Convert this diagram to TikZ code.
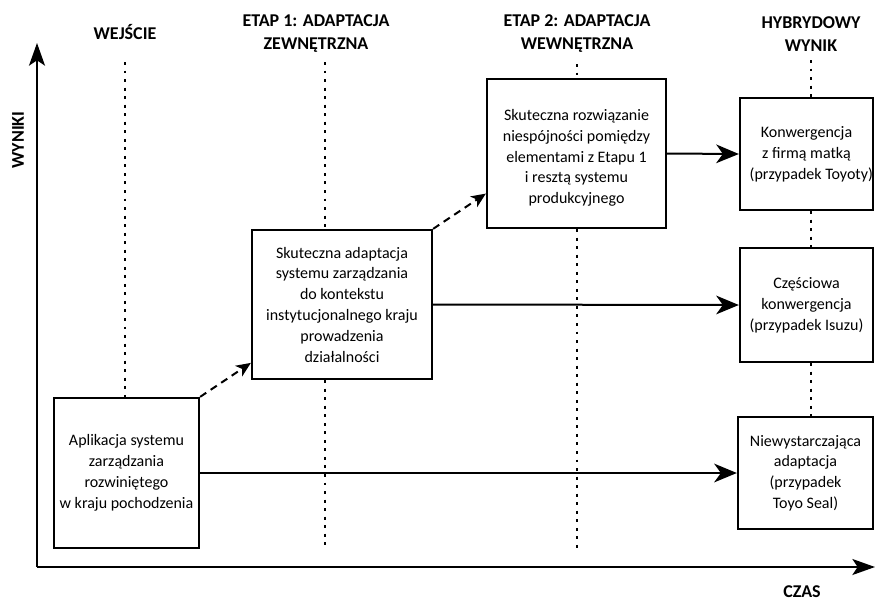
\documentclass[tikz,border=0pt]{standalone}
\usepackage{fontspec}
\setmainfont{Carlito}
\usetikzlibrary{arrows.meta,calc}

\begin{document}
\begin{tikzpicture}[x=0.75pt,y=-0.75pt,
  box/.style={draw, line width=1.7pt, align=center, inner sep=0pt,
              font=\fontsize{12}{15.6}\selectfont},
  boxtext/.style={align=center, inner sep=0pt, font=\fontsize{12}{15.6}\selectfont},
  head/.style={align=center, font=\fontsize{13.5}{17.25}\selectfont\bfseries},
  flow/.style={line width=1.5pt, -{Stealth[length=17pt,width=14pt,inset=5pt]}},
  dflow/.style={line width=1.5pt, dash pattern=on 5.5pt off 4pt,
                -{Stealth[length=11pt,width=9.5pt,inset=3pt]}},
  dotline/.style={line width=1.6pt, dash pattern=on 2.2pt off 4.2pt},
  axis/.style={line width=1.5pt, -{Stealth[length=17pt,width=12pt,inset=4pt]}}]

\useasboundingbox (0,0) rectangle (875,604);

% column headings
\node[head] (h1) at (125,32) {WEJŚCIE};
\node[head] (h2) at (316,34) {ETAP 1: ADAPTACJA\\ZEWNĘTRZNA};
\node[head] (h3) at (577,34) {ETAP 2: ADAPTACJA\\WEWNĘTRZNA};
\node[head] (h4) at (811,34) {HYBRYDOWY\\WYNIK};

% axes
\coordinate (origin) at (37,567);
\coordinate (ytip) at (37,43);
\coordinate (xtip) at (875,567);
\draw[axis] (origin) -- (ytip);
\draw[axis] (origin) -- (xtip);
\node[head, rotate=90] (ylab) at (18,140) {WYNIKI};
\node[head] (xlab) at (802,592) {CZAS};

% boxes
\node[box, minimum width=108.75pt, minimum height=112.5pt] (b1) at (126.5,473)
  {Aplikacja systemu\\zarządzania\\rozwiniętego\\w kraju pochodzenia};
\node[box, minimum width=135pt, minimum height=111.75pt] (b2) at (342,304.5)
  {Skuteczna adaptacja\\systemu zarządzania\\do kontekstu\hspace*{0.5em}\\instytucjonalnego kraju\\prowadzenia\\działalności};
\node[box, minimum width=134.25pt, minimum height=111.75pt] (b3) at (576.5,153.5) {};
\node[boxtext] (b3t) at (576.5,158)
  {Skuteczna rozwiązanie\\niespójności pomiędzy\\elementami z Etapu 1\\i resztą systemu\hspace*{0.6em}\\produkcyjnego};
\node[box, minimum width=99.75pt, minimum height=84pt] (b4) at (806.5,154)
  {Konwergencja\\z firmą matką\\\hspace*{0.6em}(przypadek Toyoty)};
\node[box, minimum width=99.75pt, minimum height=85.5pt] (b5) at (806.5,305)
  {Częściowa\\konwergencja\\(przypadek Isuzu)};
\node[box, minimum width=101.25pt, minimum height=84pt] (b6) at (805.5,473)
  {Niewystarczająca\\adaptacja\\(przypadek\\Toyo Seal)};

% dotted column guides
\draw[dotline] (125,62) -- (b1.north -| 125,0);
\draw[dotline] (325,62) -- (b2.north -| 325,0);
\draw[dotline] (b2.south -| 325,0) -- (325,550);
\draw[dotline] (577,64) -- (b3.north -| 577,0);
\draw[dotline] (b3.south -| 577,0) -- (577,550);
\draw[dotline] (811,60) -- (b4.north -| 811,0);
\draw[dotline] (b4.south -| 811,0) -- (b5.north -| 811,0);
\draw[dotline] (b5.south -| 811,0) -- (b6.north -| 811,0);

% solid transitions to the outcomes
\draw[flow] (b1.east) -- (b6.west);
\draw[flow] (b2.east) -- (b5.west);
\draw[flow] (b3.east) -- (b4.west);

% dashed stage transitions
\draw[dflow] (b1.north east) -- ($(b2.south west)!0.114!(b2.north west)$);
\draw[dflow] (b2.north east) -- ($(b3.south west)!0.235!(b3.north west)$);
\end{tikzpicture}
\end{document}
